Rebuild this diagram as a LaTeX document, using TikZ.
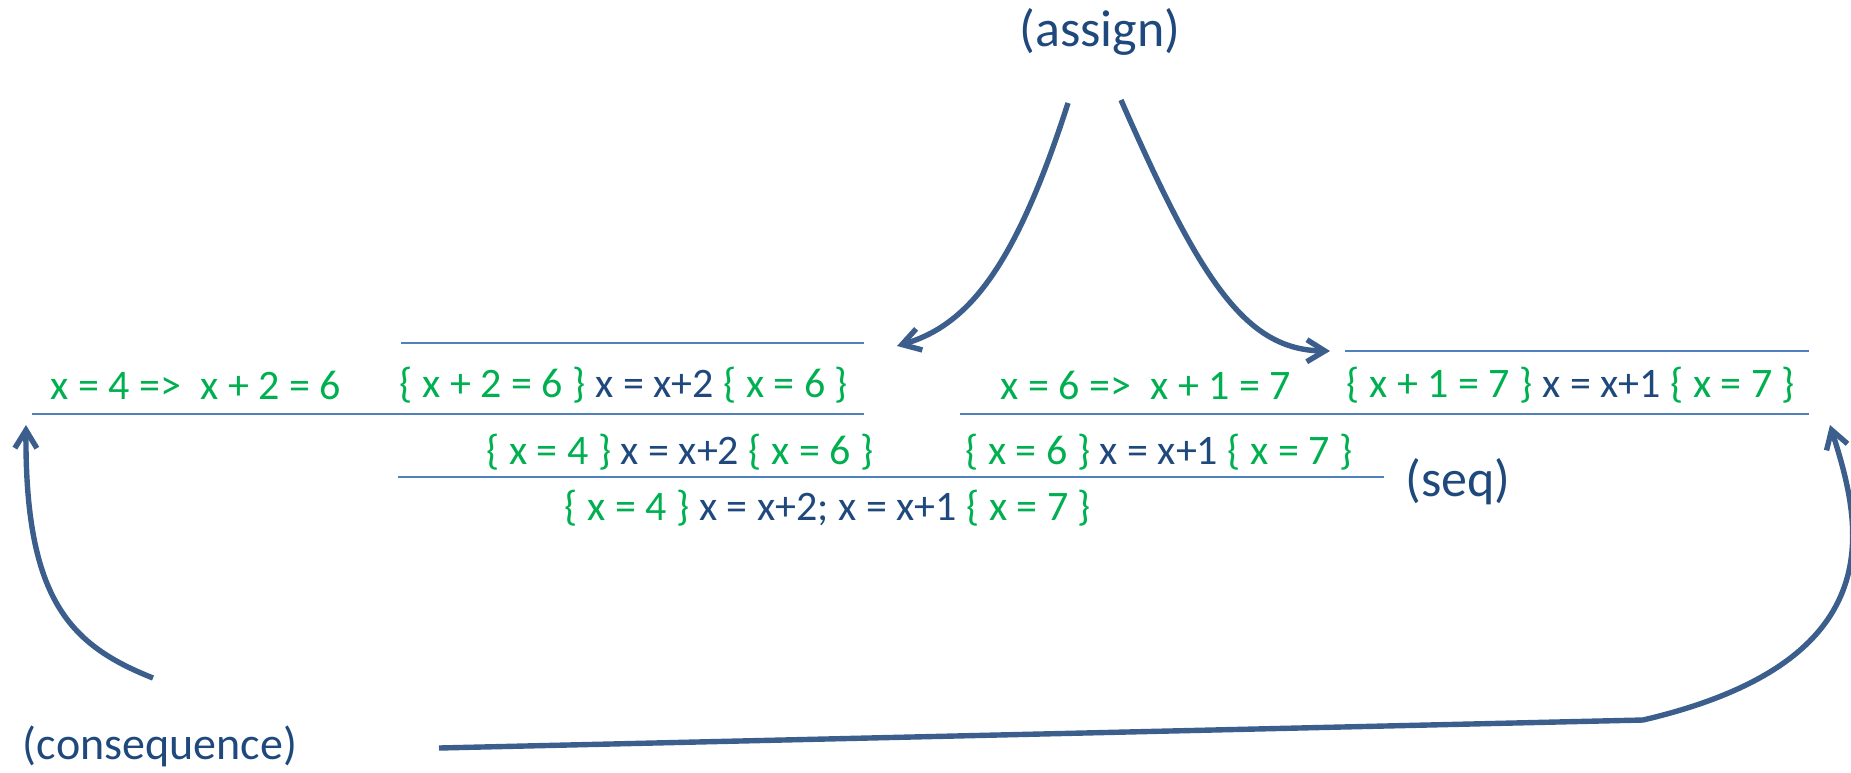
\documentclass[tikz,border=0pt]{standalone}
\usepackage{fontspec}
\setmainfont{Carlito}
\usetikzlibrary{arrows.meta}
\definecolor{hgreen}{HTML}{00B050}
\definecolor{hblue}{HTML}{1F497D}
\definecolor{rulec}{HTML}{4F81BD}
\definecolor{arrc}{HTML}{3B5E8C}
\newcommand{\G}[1]{\textcolor{hgreen}{#1}}
\newcommand{\B}[1]{\textcolor{hblue}{#1}}
\tikzset{
  formula/.style={inner sep=0pt, font=\fontsize{21}{25}\selectfont},
  rulename/.style={inner sep=0pt, text=hblue, font=\fontsize{26}{30}\selectfont},
  ruleline/.style={draw=rulec, line width=1pt},
  flow/.style={draw=arrc, line width=2.7pt, -{Straight Barb[length=9pt,width=11pt,line width=2.7pt]}},
}
\begin{document}
\begin{tikzpicture}[x=0.5pt,y=-0.5pt]
\useasboundingbox (0,0) rectangle (1851,772);
% labels
\node[rulename] (assign) at (1100,32) {(assign)};
\node[rulename] (seq) at (1458,482) {(seq)};
\node[rulename, font=\fontsize{23}{27}\selectfont] (cons) at (160,746) {(consequence)};
% row 1
\node[formula] (imp1) at (196,385) {\G{x = 4 =>\ \ x + 2 = 6}};
\node[formula] (as1) at (624,385) {\G{\{ x + 2 = 6 \}} \B{x = x+2} \G{\{ x = 6 \}}};
\node[formula] (imp2) at (1146,385) {\G{x = 6 =>\ \ x + 1 = 7}};
\node[formula] (as2) at (1571,385) {\G{\{ x + 1 = 7 \}} \B{x = x+1} \G{\{ x = 7 \}}};
% row 2
\node[formula] (c1) at (680,452) {\G{\{ x = 4 \}} \B{x = x+2} \G{\{ x = 6 \}}};
\node[formula] (c2) at (1159,452) {\G{\{ x = 6 \}} \B{x = x+1} \G{\{ x = 7 \}}};
% row 3
\node[formula] (sq) at (828,508) {\G{\{ x = 4 \}} \B{x = x+2; x = x+1} \G{\{ x = 7 \}}};
% rule lines
\coordinate (t1a) at (401,343); \coordinate (t1b) at (864,343);
\coordinate (b1a) at (32,414);  \coordinate (b1b) at (864,414);
\coordinate (t2a) at (1345,351); \coordinate (t2b) at (1809,351);
\coordinate (b2a) at (960,414);  \coordinate (b2b) at (1809,414);
\coordinate (ma) at (398,477);   \coordinate (mb) at (1384,477);
\path[ruleline] (t1a) -- (t1b);
\path[ruleline] (b1a) -- (b1b);
\path[ruleline] (t2a) -- (t2b);
\path[ruleline] (b2a) -- (b2b);
\path[ruleline] (ma) -- (mb);
% arrows
\coordinate (a1s) at (1068,103); \coordinate (a1e) at (897,346);
\coordinate (a2s) at (1121,100); \coordinate (a2e) at (1330,351);
\coordinate (k1s) at (153,678);  \coordinate (k1e) at (26,425);
\coordinate (k2s) at (439,748);  \coordinate (k2m) at (1643,720); \coordinate (k2e) at (1830,425);
\path[flow] (a1s) .. controls (1015,268) and (968,325) .. (a1e);
\path[flow] (a2s) .. controls (1200,280) and (1245,350) .. (a2e);
\path[flow] (k1s) .. controls (70,645) and (25,600) .. (k1e);
\path[flow] (k2s) -- (k2m) .. controls (1900,660) and (1860,520) .. (k2e);
\end{tikzpicture}
\end{document}
